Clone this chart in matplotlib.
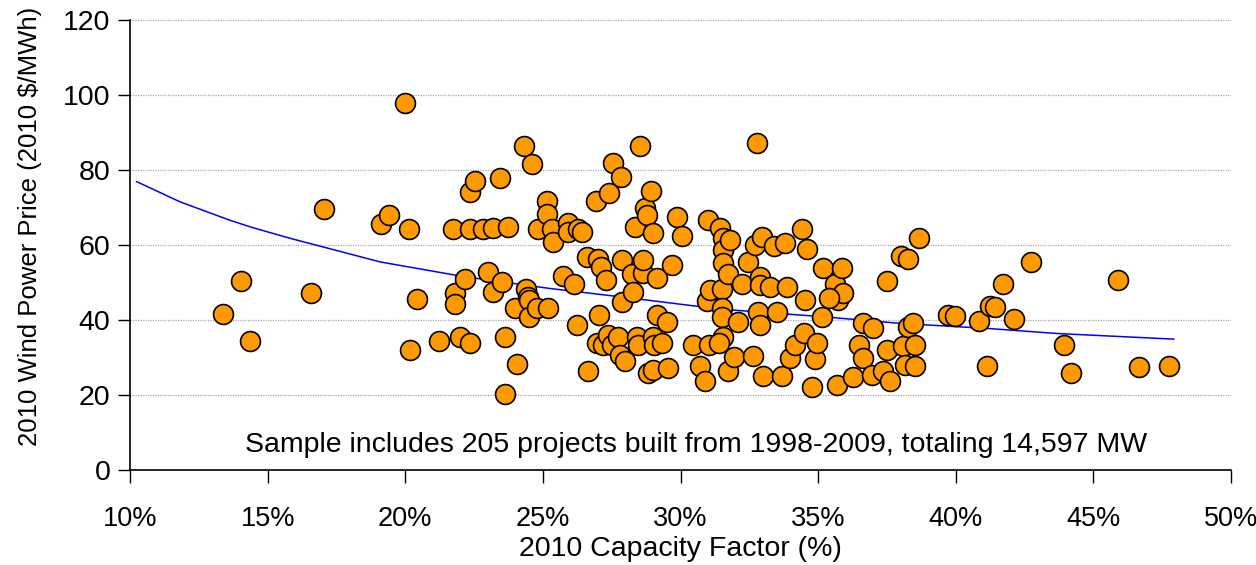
import matplotlib
matplotlib.use("Agg")
import matplotlib.pyplot as plt
from matplotlib.ticker import FixedLocator, FuncFormatter

plt.rcParams['font.family'] = ['Liberation Sans', 'DejaVu Sans']

# Capacity factor (%) and price ($/MWh) for each project
cap_factor = [
    13.38, 14.03, 14.36, 16.58, 17.05, 19.12, 19.40, 19.99, 20.14, 20.17,
    20.42, 21.24, 21.75, 21.81, 21.81, 21.99, 22.17, 22.35, 22.54, 22.35,
    22.35, 22.81, 23.02, 23.18, 23.20, 23.44, 23.50, 23.63, 23.63, 23.75,
    23.99, 24.05, 24.33, 24.39, 24.45, 24.50, 24.50, 24.62, 24.84, 24.78,
    25.14, 25.14, 25.20, 25.32, 25.38, 25.74, 25.93, 25.93, 26.13, 26.23,
    26.29, 26.41, 26.59, 26.65, 26.93, 26.95, 27.00, 27.05, 27.12, 27.20,
    27.30, 27.38, 27.42, 27.53, 27.50, 27.74, 27.80, 27.83, 27.87, 27.87,
    27.99, 28.23, 28.29, 28.35, 28.41, 28.47, 28.53, 28.63, 28.65, 28.71,
    28.77, 28.83, 28.92, 28.99, 29.01, 29.01, 29.04, 29.13, 29.14, 29.32,
    29.50, 29.56, 29.68, 29.86, 30.04, 30.44, 30.71, 30.89, 30.95, 31.01,
    31.05, 31.08, 31.44, 31.50, 31.50, 31.50, 31.56, 31.56, 31.41, 31.56,
    31.56, 31.74, 31.74, 31.80, 31.96, 32.10, 32.22, 32.47, 32.65, 32.71,
    32.77, 32.83, 32.89, 32.89, 32.89, 32.95, 32.99, 33.25, 33.40, 33.50,
    33.68, 33.80, 33.86, 33.98, 34.16, 34.40, 34.47, 34.53, 34.59, 34.77,
    34.89, 34.95, 35.13, 35.17, 35.62, 35.67, 35.74, 35.86, 35.92, 35.40,
    36.26, 36.47, 36.62, 36.64, 36.95, 37.00, 37.37, 37.49, 37.49, 37.62,
    38.00, 38.28, 38.10, 38.16, 38.25, 38.46, 38.52, 38.52, 38.65, 39.73,
    39.98, 40.86, 41.15, 41.25, 41.43, 41.73, 42.10, 42.73, 43.94, 44.18,
    45.91, 46.67, 47.73,
]
price = [
    41.6, 50.4, 34.4, 47.2, 69.6, 65.6, 67.9, 97.9, 64.2, 32.0,
    45.5, 34.5, 64.2, 47.1, 44.4, 35.4, 50.9, 74.2, 77.1, 64.2,
    34.0, 64.2, 52.7, 64.6, 47.6, 77.8, 50.1, 35.4, 20.4, 64.9,
    43.1, 28.2, 86.4, 48.4, 46.2, 45.3, 40.9, 81.5, 64.2, 43.1,
    71.8, 68.2, 43.1, 64.2, 60.9, 51.8, 65.8, 63.5, 49.6, 38.8,
    64.2, 63.5, 56.9, 26.5, 71.7, 33.8, 56.4, 41.3, 54.2, 33.3,
    50.7, 36.0, 74.0, 82.0, 33.3, 35.6, 30.7, 78.2, 56.0, 44.9,
    29.1, 52.4, 47.6, 64.9, 35.6, 33.3, 86.4, 52.6, 56.0, 69.8,
    68.0, 25.8, 74.4, 63.1, 35.6, 26.7, 33.3, 51.1, 41.3, 33.8,
    39.4, 27.1, 54.7, 67.6, 62.4, 33.3, 27.7, 23.8, 45.0, 66.7,
    33.3, 48.0, 64.4, 48.2, 43.1, 40.9, 62.0, 35.6, 33.8, 58.7,
    55.1, 52.4, 26.5, 61.3, 30.2, 39.6, 49.6, 55.6, 30.4, 60.0,
    87.1, 42.2, 51.6, 49.3, 38.7, 62.2, 25.2, 48.9, 59.7, 42.2,
    25.2, 60.6, 48.7, 29.8, 33.3, 64.2, 36.6, 45.3, 58.9, 22.2,
    29.5, 33.9, 40.9, 53.8, 49.6, 22.7, 45.3, 53.8, 47.1, 45.8,
    24.7, 33.3, 39.3, 29.8, 25.3, 37.8, 26.4, 50.4, 32.0, 23.7,
    57.1, 56.4, 33.1, 28.0, 38.2, 39.3, 33.3, 27.7, 62.0, 41.3,
    41.1, 39.8, 27.7, 43.7, 43.4, 49.5, 40.2, 55.6, 33.3, 26.0,
    50.8, 27.4, 27.7,
]

# Trend line
trend_x = [10.24, 11.82, 13.63, 14.47, 15.81, 19.08, 22.1, 25.26, 27.8,
           31.44, 35.13, 37.98, 41.25, 43.68, 47.92]
trend_y = [76.9, 71.5, 66.6, 64.6, 61.8, 55.5, 51.6, 48.4, 46.2,
           42.9, 40.9, 39.1, 37.7, 36.4, 34.9]

x_ticks = [10, 15, 20, 25, 30, 35, 40, 45, 50]
y_ticks = [0, 20, 40, 60, 80, 100, 120]

note = "Sample includes 205 projects built from 1998-2009, totaling 14,597 MW"

fig = plt.figure(figsize=(12.56, 5.65), dpi=100)
ax = fig.add_axes([130/1256, 95/565, 1101/1256, 450/565])

ax.set_xlim(10, 50)
ax.set_ylim(0, 120)

for yv in y_ticks[1:]:
    ax.axhline(yv, color='#a8a8a8', lw=0.9, ls=(0, (1, 1)), zorder=0)

ax.plot(trend_x, trend_y, color='#0000ff', lw=1.1, zorder=2)
ax.scatter(cap_factor, price, s=205, c='#ff9900', edgecolors='black',
           linewidths=1.2, zorder=3)

ax.xaxis.set_major_locator(FixedLocator(x_ticks))
ax.yaxis.set_major_locator(FixedLocator(y_ticks))
ax.xaxis.set_major_formatter(FuncFormatter(lambda v, p: f"{int(round(v))}%"))
ax.tick_params(axis='both', direction='out', length=9, width=1,
               colors='black')
ax.tick_params(axis='x', pad=17, labelsize=19.5)
ax.tick_params(axis='y', pad=5, labelsize=20.5)

for s in ['top', 'right']:
    ax.spines[s].set_visible(False)
for s in ['left', 'bottom']:
    ax.spines[s].set_linewidth(1.2)
    ax.spines[s].set_color('black')

ax.set_xlabel("2010 Capacity Factor (%)", fontsize=20.5, va='center')
ax.set_ylabel("2010 Wind Power Price (2010 $/MWh)", fontsize=18.5, va='center')
ax.xaxis.set_label_coords(0.5, -(549 - 470) / 450)
ax.yaxis.set_label_coords((30 - 130) / 1101, (470 - 226) / 450)

ax.text(30.55, 6.67, note, ha='center', va='center', fontsize=20.5)

fig.savefig("out.png", dpi=100)
